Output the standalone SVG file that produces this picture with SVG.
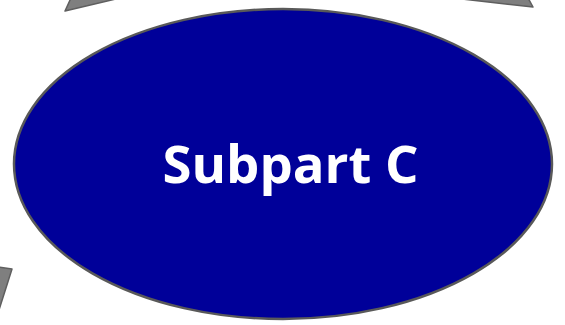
<svg xmlns="http://www.w3.org/2000/svg" width="565" height="325" viewBox="0 0 565 325">
<style>
.arrow{fill:#7f7f7f;stroke:#5f5f5f;stroke-width:1.5;stroke-linejoin:round}
.node{fill:#000099;stroke:#595959;stroke-width:2.5}
.label{font-family:"Open Sans","Liberation Sans",sans-serif;font-weight:bold;font-size:52px;fill:#ffffff}
</style>
<g id="connectors">
<polygon class="arrow" points="71,-2 120,-2 65,11"/>
<polygon class="arrow" points="453,-2 528,-2 533,7"/>
<polygon class="arrow" points="-2,267 12,269 -2,313"/>
</g>
<g id="subpart-c">
<ellipse class="node" cx="283" cy="164" rx="269" ry="155"/>
<text class="label" x="290.5" y="183" text-anchor="middle" textLength="256" lengthAdjust="spacingAndGlyphs">Subpart C</text>
</g>
</svg>
